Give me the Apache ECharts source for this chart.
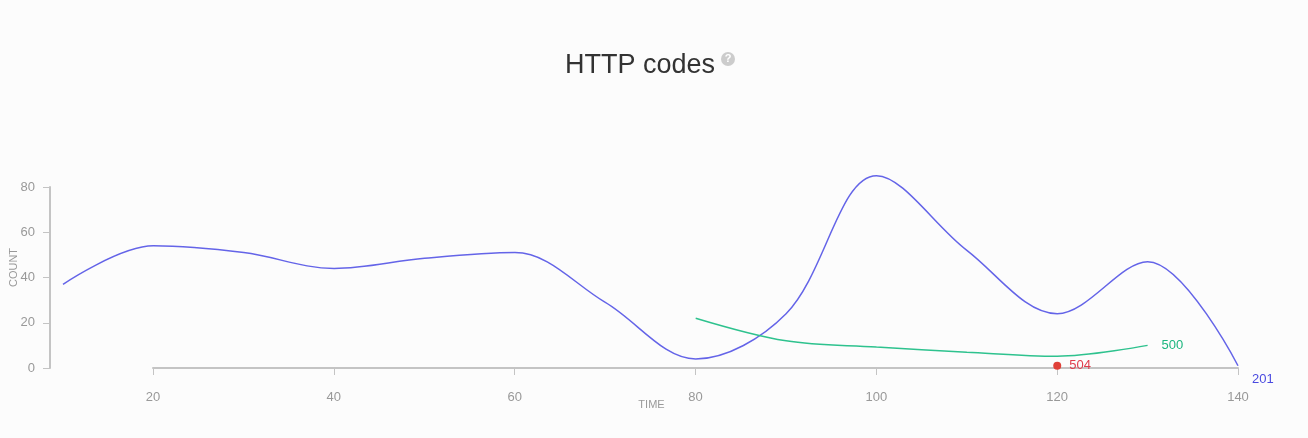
<!DOCTYPE html>
<html>
<head>
<meta charset="utf-8">
<script src="https://cdn.jsdelivr.net/npm/echarts@6/dist/echarts.min.js"></script>
<style>
  html, body { margin: 0; padding: 0; background: #fcfcfc; }
  #chart { width: 1308px; height: 438px; }
</style>
</head>
<body>
<div id="chart"></div>
<script>
// values
var time201 = [10, 20, 30, 40, 50, 60, 70, 80, 90, 100, 110, 120, 130, 140];
var count201 = [37, 54, 51, 44, 48.5, 51, 29, 4, 24, 85, 52, 24, 47, 1];
var time500 = [80, 90, 100, 110, 120, 130];
var count500 = [22, 12, 9.3, 7, 5.2, 10];
var time504 = [120];
var count504 = [1];
var xTicks = [20, 40, 60, 80, 100, 120, 140];
var yTicks = [0, 20, 40, 60, 80];

function pairs(xs, ys) {
  return xs.map(function (x, i) { return [x, ys[i]]; });
}

var axisColor = "#c4c4c4";
var labelStyle = { color: "#999", fontSize: 13, fontFamily: "Liberation Sans" };

var chart = echarts.init(document.getElementById("chart"));
chart.setOption({
  backgroundColor: "#fcfcfc",
  animation: false,
  title: {
    text: "HTTP codes",
    left: 635,
    textAlign: "center",
    top: 47,
    textStyle: {
      fontFamily: "Liberation Sans",
      fontSize: 27,
      fontWeight: "normal",
      color: "#333"
    }
  },
  graphic: [
    {
      type: "circle",
      shape: { cx: 728, cy: 59, r: 7 },
      style: { fill: "#ccc" }
    },
    {
      type: "text",
      x: 728,
      y: 59,
      style: {
        text: "?",
        fill: "#fff",
        font: "bold 11px Liberation Sans",
        align: "center",
        verticalAlign: "middle"
      }
    }
  ],
  // grid 0 holds the data (time starts at 10), grid 1 holds the visible axes
  grid: [
    { left: 63, right: 70, top: 187, bottom: 70, outerBoundsMode: "none", containLabel: false },
    { left: 153, right: 70, top: 187, bottom: 70, outerBoundsMode: "none", containLabel: false }
  ],
  xAxis: [
    {
      gridIndex: 0,
      type: "value",
      min: 10,
      max: 140,
      show: false
    },
    {
      gridIndex: 1,
      type: "value",
      min: xTicks[0],
      max: xTicks[xTicks.length - 1],
      interval: 20,
      offset: 11,
      name: "TIME",
      nameLocation: "middle",
      nameGap: 20,
      nameMoveOverlap: false,
      nameTextStyle: {
        color: "#999",
        fontSize: 11,
        fontFamily: "Liberation Sans",
        padding: [0, 88, 0, 0]
      },
      splitLine: { show: false },
      axisLine: { lineStyle: { color: axisColor, width: 2 } },
      axisTick: { length: 7, lineStyle: { color: axisColor, width: 1 } },
      axisLabel: Object.assign({ margin: 12 }, labelStyle)
    }
  ],
  yAxis: [
    {
      gridIndex: 0,
      type: "value",
      min: 0,
      max: 80,
      show: false
    },
    {
      gridIndex: 1,
      type: "value",
      min: yTicks[0],
      max: yTicks[yTicks.length - 1],
      interval: 20,
      offset: 103,
      name: "COUNT",
      nameLocation: "middle",
      nameGap: 31,
      nameMoveOverlap: false,
      nameTextStyle: {
        color: "#999",
        fontSize: 11,
        fontFamily: "Liberation Sans",
        padding: [0, 0, 0, 20]
      },
      splitLine: { show: false },
      axisLine: { show: true, lineStyle: { color: axisColor, width: 2 } },
      axisTick: { show: true, length: 7, lineStyle: { color: axisColor, width: 1 } },
      axisLabel: Object.assign({ margin: 15 }, labelStyle)
    }
  ],
  series: [
    {
      name: "201",
      type: "line",
      xAxisIndex: 0,
      yAxisIndex: 0,
      data: pairs(time201, count201),
      smooth: 0.35,
      showSymbol: false,
      clip: false,
      lineStyle: { color: "#6464e8", width: 1.5 },
      endLabel: {
        show: true,
        formatter: "201",
        color: "#4a4ae0",
        fontSize: 13,
        fontFamily: "Liberation Sans",
        distance: 14,
        offset: [0, 14]
      }
    },
    {
      name: "500",
      type: "line",
      xAxisIndex: 0,
      yAxisIndex: 0,
      data: pairs(time500, count500),
      smooth: 0.35,
      showSymbol: false,
      clip: false,
      lineStyle: { color: "#2ec28e", width: 1.5 },
      endLabel: {
        show: true,
        formatter: "500",
        color: "#1db67f",
        fontSize: 13,
        fontFamily: "Liberation Sans",
        distance: 14
      }
    },
    {
      name: "504",
      type: "scatter",
      xAxisIndex: 0,
      yAxisIndex: 0,
      data: pairs(time504, count504),
      symbolSize: 8,
      clip: false,
      itemStyle: { color: "#e04038", opacity: 1 },
      label: {
        show: true,
        position: "right",
        formatter: "504",
        color: "#e03c4c",
        fontSize: 13,
        fontFamily: "Liberation Sans",
        distance: 8
      }
    }
  ]
});
</script>
</body>
</html>
